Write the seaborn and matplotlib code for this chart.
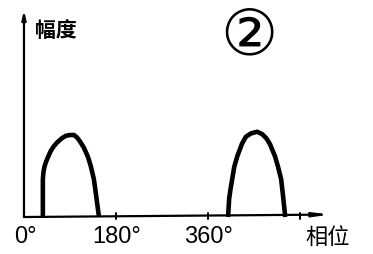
import matplotlib
matplotlib.use("Agg")
import matplotlib.pyplot as plt
import seaborn as sns
import pandas as pd
from matplotlib import font_manager

# ---- data ----
hump1_phase = [37, 37, 37, 38, 40, 43, 47, 52, 58, 65, 74, 82, 90, 98, 104, 110, 117, 125, 131, 137, 141, 147]
hump1_amp = [0, 0.28, 0.46, 0.54, 0.61, 0.67, 0.73, 0.80, 0.86, 0.91, 0.96, 0.99, 1.0, 1.0, 0.97, 0.92, 0.85, 0.74, 0.62, 0.46, 0.28, 0]
hump2_phase = [400, 402, 405, 408, 412, 418, 427, 435, 445, 457, 467, 475, 482, 492, 498, 504, 508, 512]
hump2_amp = [0, 0.22, 0.35, 0.46, 0.61, 0.74, 0.89, 0.98, 1.02, 1.04, 1.01, 0.96, 0.89, 0.74, 0.61, 0.46, 0.24, 0]
tick_pos = [0, 180, 360, 540]
tick_labels = ["0°", "180°", "360°", ""]
x_label = "相位"
y_label = "幅度"
title_mark = "②"

df = pd.concat([
    pd.DataFrame({"phase": hump1_phase, "amp": hump1_amp, "hump": "1"}),
    pd.DataFrame({"phase": hump2_phase, "amp": hump2_amp, "hump": "2"}),
])

sns.set_style("white")
plt.rcParams['font.family'] = ['Noto Sans CJK SC', 'DejaVu Sans']

avail = {f.name for f in font_manager.fontManager.ttflist}
num_font = 'Liberation Sans Narrow' if 'Liberation Sans Narrow' in avail else 'Liberation Sans'

fig = plt.figure(figsize=(3.73, 2.55), dpi=100)
ax = fig.add_axes([0, 0, 1, 1])
ax.set_xlim(-47, 684)
ax.set_ylim(-0.451, 2.659)
ax.axis("off")

for h, sub in df.groupby("hump"):
    sns.lineplot(data=sub, x="phase", y="amp", sort=False, estimator=None,
                 color="black", lw=3.3, ax=ax, legend=False,
                 solid_joinstyle="round", solid_capstyle="butt")

# axes with arrows
ax.annotate("", xy=(0, 2.52), xytext=(0, 0),
            arrowprops=dict(arrowstyle="-|>,head_length=0.5,head_width=0.12",
                            lw=1.6, color="black", shrinkA=0, shrinkB=0))
ax.annotate("", xy=(600, 0.03), xytext=(0, 0),
            arrowprops=dict(arrowstyle="-|>,head_length=0.9,head_width=0.12",
                            lw=1.6, color="black", shrinkA=0, shrinkB=0))

# tick marks
for p in tick_pos[1:]:
    ax.plot([p, p], [-0.03, 0.05], color="black", lw=1.4)

for p, lab in zip(tick_pos, tick_labels):
    if lab:
        ax.text(p + 2, -0.23, lab, ha="center", va="center", fontsize=17,
                family=[num_font, 'DejaVu Sans'], color="black")

ax.text(596, -0.23, x_label, ha="center", va="center", fontsize=16, color="black")
ax.text(22, 2.29, y_label, ha="left", va="center", fontsize=15, fontweight="bold", color="black")
ax.text(441, 2.21, title_mark, ha="center", va="center", fontsize=46,
        family=['DejaVu Sans'], color="black")

fig.savefig("out.png", dpi=100, facecolor="white")
